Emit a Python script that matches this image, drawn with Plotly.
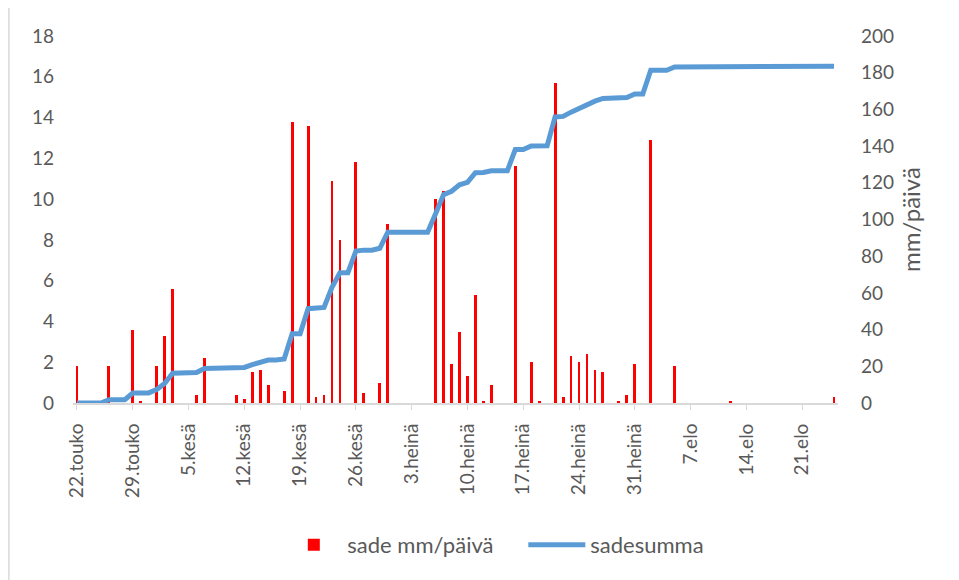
import pandas as pd
import plotly.graph_objects as go

# ---- data ----
start_date = "2019-05-22"
n_days = 96
dates = pd.date_range(start_date, periods=n_days, freq="D")

# daily rainfall mm (22 May .. 25 Aug)
sade = [
    1.8, 0, 0, 0, 1.8, 0, 0, 3.6, 0.1, 0,          # 22.5 - 31.5
    1.8, 3.3, 5.6, 0, 0, 0.4, 2.2, 0, 0, 0,        # 1.6 - 10.6
    0.4, 0.2, 1.5, 1.6, 0.9, 0, 0.6, 13.8, 0, 13.6,  # 11.6 - 20.6
    0.3, 0.4, 10.9, 8.0, 0, 11.8, 0.5, 0, 1.0, 8.8,  # 21.6 - 30.6
    0, 0, 0, 0, 0, 10.0, 10.4, 1.9, 3.5, 1.3,      # 1.7 - 10.7
    5.3, 0.1, 0.9, 0, 0, 11.6, 0, 2.0, 0.1, 0,     # 11.7 - 20.7
    15.7, 0.3, 2.3, 2.0, 2.4, 1.6, 1.5, 0, 0.1, 0.4,  # 21.7 - 30.7
    1.9, 0, 12.9, 0, 0, 1.8, 0, 0, 0, 0,           # 31.7 - 9.8
    0, 0, 0.1, 0, 0, 0, 0, 0, 0, 0,                # 10.8 - 19.8
    0, 0, 0, 0, 0, 0.3,                            # 20.8 - 25.8
]

# cumulative rainfall line
sadesumma = [
    0, 0, 0, 0, 1.8, 1.8, 1.8, 5.4, 5.5, 5.5,
    7.3, 10.6, 16.2, 16.2, 16.2, 16.6, 18.8, 18.8, 18.8, 18.8,
    19.2, 19.4, 20.9, 22.5, 23.4, 23.4, 24.0, 37.8, 37.8, 51.4,
    51.7, 52.1, 63.0, 71.0, 71.0, 82.8, 83.3, 83.3, 84.3, 93.1,
    93.1, 93.1, 93.1, 93.1, 93.1, 103.1, 113.5, 115.4, 118.9, 120.2,
    125.5, 125.6, 126.5, 126.5, 126.5, 138.1, 138.1, 140.1, 140.2, 140.2,
    155.9, 156.2, 158.5, 160.5, 162.9, 164.5, 166.0, 166.0, 166.1, 166.5,
    168.4, 168.4, 181.3, 181.3, 181.3, 183.1, 183.1, 183.1, 183.1, 183.1,
    183.1, 183.1, 183.2, 183.2, 183.2, 183.2, 183.2, 183.2, 183.2, 183.2,
    183.2, 183.2, 183.2, 183.2, 183.2, 183.5,
]

tick_dates = ["2019-05-22", "2019-05-29", "2019-06-05", "2019-06-12", "2019-06-19",
              "2019-06-26", "2019-07-03", "2019-07-10", "2019-07-17", "2019-07-24",
              "2019-07-31", "2019-08-07", "2019-08-14", "2019-08-21"]
tick_labels = ["22.touko", "29.touko", "5.kesä", "12.kesä", "19.kesä", "26.kesä",
               "3.heinä", "10.heinä", "17.heinä", "24.heinä", "31.heinä",
               "7.elo", "14.elo", "21.elo"]

FONT = "Lato, 'Liberation Sans', Arial, sans-serif"
GRAY = "#595959"

fig = go.Figure()
fig.add_trace(go.Bar(
    x=dates, y=sade, name="sade mm/päivä",
    marker=dict(color="#ff0000", line=dict(width=0)),
    width=0.36 * 86400000, yaxis="y",
))
fig.add_trace(go.Scatter(
    x=dates, y=sadesumma, name="sadesumma", mode="lines",
    line=dict(color="#5b9bd5", width=5), yaxis="y2",
))

fig.update_layout(
    width=959, height=580,
    margin=dict(l=65, r=129, t=28, b=185),
    paper_bgcolor="white", plot_bgcolor="white",
    font=dict(family=FONT, color=GRAY, size=19),
    showlegend=True,
    legend=dict(orientation="h", x=0.271, y=-0.387, xanchor="left", yanchor="middle",
                font=dict(size=22, color=GRAY), itemwidth=57, traceorder="normal",
                entrywidth=171, entrywidthmode="pixels"),
    xaxis=dict(
        type="date",
        range=["2019-05-21 12:00", "2019-08-25 12:00"],
        tickmode="array", tickvals=tick_dates, ticktext=tick_labels,
        tickangle=-90, ticks="outside", ticklen=5, tickcolor="#d9d9d9",
        showline=True, linecolor="#d9d9d9", linewidth=2,
        showgrid=False, zeroline=False, ticklabelstandoff=6,
        tickfont=dict(size=19, color=GRAY),
    ),
    yaxis=dict(
        range=[0, 18], dtick=2, showgrid=False, zeroline=False, showline=False,
        tickfont=dict(size=19, color=GRAY), ticklabelstandoff=18,
    ),
    yaxis2=dict(
        range=[0, 200], dtick=20, overlaying="y", side="right",
        showgrid=False, zeroline=False, showline=False,
        tickfont=dict(size=19, color=GRAY), ticklabelstandoff=22,
        title=dict(text="mm/päivä", font=dict(size=24, color=GRAY), standoff=10),
    ),
    bargap=0,
    shapes=[dict(type="line", xref="paper", yref="paper",
                 x0=-0.0838, x1=-0.0838, y0=-0.5, y1=1.1,
                 line=dict(color="#d9d9d9", width=1.5))],
)

fig.write_html("out.html")
